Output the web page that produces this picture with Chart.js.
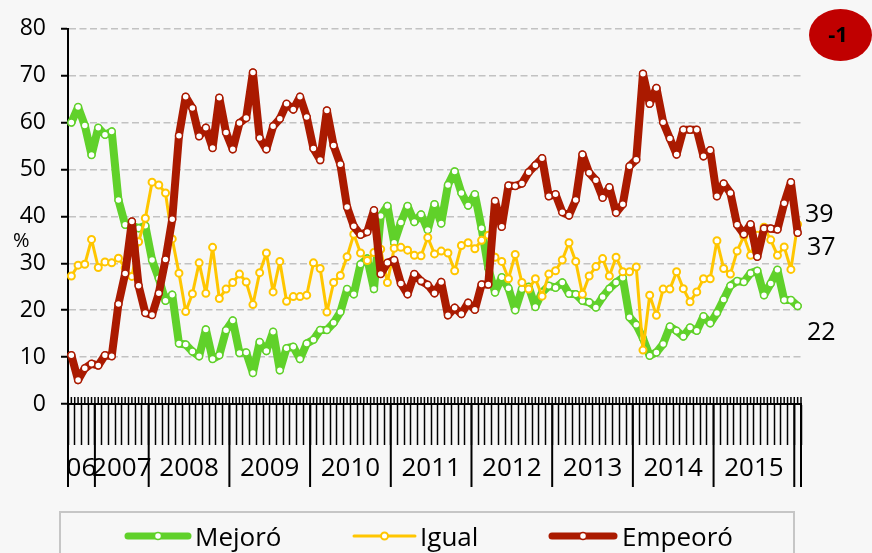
<!DOCTYPE html>
<html>
<head>
<meta charset="utf-8">
<script src="https://cdn.jsdelivr.net/npm/chart.js@4.4.0/dist/chart.umd.min.js"></script>
<style>
  html, body { margin: 0; padding: 0; background: #f7f7f7; overflow: hidden; }
  #wrap { position: relative; width: 872px; height: 553px; font-family: "Open Sans", sans-serif; }
  #chart { position: absolute; left: 0; top: 0; }
  #legendBox { position: absolute; left: 59px; top: 511px; width: 736px; height: 70px;
               border: 2px solid #c6c6c6; box-sizing: border-box; }
  #legendSvg { position: absolute; left: 0; top: 0; }
  .lg { position: absolute; top: 519px; font-size: 26px; line-height: 34px; color: #000; }
</style>
</head>
<body>
<div id="wrap">
  <canvas id="chart" width="872" height="553"></canvas>
  <div id="legendBox"></div>
  <svg id="legendSvg" width="872" height="553"></svg>
  <span class="lg" style="left:195px">Mejoró</span>
  <span class="lg" style="left:420px">Igual</span>
  <span class="lg" style="left:622px">Empeoró</span>
</div>
<script>
var FONT = '"Open Sans", sans-serif';

// years covered and first/last survey month in each
var years      = ['2006', '2007', '2008', '2009', '2010', '2011', '2012', '2013', '2014', '2015', '2016'];
var firstMonth = [9, 5, 1, 1, 1, 1, 1, 1, 1, 1, 1];
var lastMonth  = [12, 12, 12, 12, 12, 12, 12, 12, 12, 12, 1];
var yearTicks  = ['06', '2007', '2008', '2009', '2010', '2011', '2012', '2013', '2014', '2015', ''];

var mejoro = [
  60, 63.3, 59.4, 53.1,
  58.9, 57.4, 58.1, 43.5, 38.2, 38, 37.5, 38,
  30.7, 26.8, 22, 23.3, 12.9, 12.7, 11.2, 10.2, 15.9, 9.6, 10.4, 15.7,
  17.8, 10.9, 11, 6.6, 13.2, 11.3, 15.4, 7.2, 11.9, 12.2, 9.6, 12.9,
  13.7, 15.8, 15.8, 17.3, 19.6, 24.5, 23.4, 29.8, 31, 24.5, 40.1, 42.2,
  34.4, 38.7, 42.2, 38.8, 40.4, 37.1, 42.6, 38.5, 46.7, 49.6, 45, 42.3,
  44.7, 37.5, 29, 23.8, 27, 24.7, 20, 24.5, 25, 20.7, 23.8, 25.2,
  24.8, 25.9, 23.5, 23.4, 22, 21.7, 20.6, 22.8, 24.6, 25.9, 26.9, 18.5,
  16.9, 14, 10.3, 11, 12.8, 16.5, 15.6, 14.4, 16.3, 15.6, 18.7, 17.2,
  19.4, 22.3, 25.2, 26.2, 26, 27.9, 28.4, 23.2, 25.7, 28.6, 22.2, 22.2,
  20.9
];
var igual = [
  27.3, 29.6, 29.8, 35.1,
  29.1, 30.3, 30.1, 31.1, 29, 27.2, 34.6, 39.6,
  47.3, 46.7, 45, 35.2, 27.9, 19.7, 23.5, 30.1, 23.6, 33.4, 22.5, 24.5,
  25.9, 27.7, 26, 21.2, 28, 32.2, 23.9, 30.4, 21.9, 22.9, 22.9, 23.2,
  30.1, 28.9, 19.6, 25.9, 27.4, 31.4, 36.2, 32.2, 30.6, 32.3, 33, 25.9,
  33.2, 33.4, 32.8, 31.7, 31.6, 35.5, 32, 32.6, 32.2, 28.4, 33.8, 34.4,
  33.1, 34.9, 36, 31.3, 30.4, 26.7, 31.9, 25.9, 24.5, 26.7, 23, 27.7,
  28.4, 30.7, 34.4, 30.4, 23.4, 27.3, 29.3, 31, 27.3, 31.3, 28.2, 28.2,
  29.2, 11.5, 23.2, 18.9, 24.5, 24.5, 28.2, 24.6, 21.8, 23.9, 26.7, 26.7,
  34.8, 28.9, 27.7, 32.6, 35.8, 31.7, 36, 37.7, 35, 31.7, 33.5, 28.7,
  38.3
];
var empeoro = [
  10.4, 5.1, 7.6, 8.6,
  8.2, 10.4, 10.2, 21.3, 27.8, 38.9, 25.2, 19.4,
  19, 23.6, 30.8, 39.4, 57.2, 65.5, 63.1, 57.1, 58.9, 54.6, 65.3, 57.9,
  54.3, 59.9, 61, 70.7, 56.7, 54.3, 59.2, 60.8, 64, 62.8, 65.5, 61.2,
  54.5, 52, 62.6, 55.1, 51.1, 42, 37.9, 36.1, 36.7, 41.3, 27.7, 30.1,
  30.7, 25.7, 23.4, 27.7, 26.2, 25.4, 23.6, 26, 18.9, 20.5, 19.2, 21.6,
  20.1, 25.5, 25.5, 43.3, 37.8, 46.6, 46.5, 47, 49.4, 50.9, 52.4, 44.3,
  44.7, 40.9, 40.2, 43.5, 53.2, 49.3, 47.7, 44, 46.2, 40.8, 42.6, 50.7,
  52.1, 70.4, 64, 67.4, 60.1, 56.6, 53.2, 58.5, 58.5, 58.5, 52.8, 54.1,
  44.3, 47, 45, 38.2, 36.2, 38.3, 31.4, 37.4, 37.4, 37.2, 42.8, 47.3,
  36.5
];

// last values shown at the right end
var endLabels = ['39', '37', '22'];
var badge = '-1';

var colors = { mejoro: '#60d12a', igual: '#ffc600', empeoro: '#aa1a00' };

// month categories and where each year starts
var months = [];
var yearStart = [];
var tickLabelAt = {};
years.forEach(function(y, k) {
  yearStart.push(months.length);
  var n = lastMonth[k] - firstMonth[k] + 1;
  if (yearTicks[k] && n > 1) tickLabelAt[months.length + n / 2 - 1] = yearTicks[k];
  for (var m = firstMonth[k]; m <= lastMonth[k]; m++) {
    months.push(y + '-' + (m < 10 ? '0' + m : m));
  }
});

var decor = {
  id: 'decor',
  afterDraw: function(chart) {
    var ctx = chart.ctx;
    var xs = chart.scales.x;
    var bottom = chart.chartArea.bottom;
    var half = (xs.getPixelForValue(1) - xs.getPixelForValue(0)) / 2;

    ctx.save();
    ctx.strokeStyle = '#000';
    // small marks above the axis
    ctx.lineWidth = 1.5;
    ctx.beginPath();
    for (var i = 0; i < months.length; i++) {
      var c = xs.getPixelForValue(i);
      ctx.moveTo(c, bottom - 7); ctx.lineTo(c, bottom);
      ctx.moveTo(c - half, bottom - 7); ctx.lineTo(c - half, bottom);
    }
    var endX = xs.getPixelForValue(months.length - 1) + half;
    ctx.moveTo(endX, bottom - 7); ctx.lineTo(endX, bottom);
    ctx.stroke();

    // long year separators
    ctx.lineWidth = 2;
    ctx.beginPath();
    yearStart.forEach(function(s) {
      var bx = xs.getPixelForValue(s) - half;
      ctx.moveTo(bx, bottom); ctx.lineTo(bx, 487);
    });
    ctx.moveTo(endX, bottom); ctx.lineTo(endX, 487);
    ctx.stroke();

    // % unit
    ctx.fillStyle = '#000';
    ctx.font = '20px ' + FONT;
    ctx.textAlign = 'left';
    ctx.textBaseline = 'middle';
    ctx.fillText('%', 13, 241);

    // end values
    ctx.font = '25px ' + FONT;
    ctx.fillText(endLabels[0], 805, 215);
    ctx.fillText(endLabels[1], 807, 248);
    ctx.fillText(endLabels[2], 807, 333);

    // red badge
    ctx.fillStyle = '#c00000';
    ctx.beginPath();
    ctx.ellipse(840.5, 35, 31.5, 26, 0, 0, Math.PI * 2);
    ctx.fill();
    ctx.fillStyle = '#000';
    ctx.font = 'bold 22px ' + FONT;
    ctx.textAlign = 'center';
    ctx.fillText(badge, 838, 36);
    ctx.restore();
  }
};

function series(label, data, color, width, order) {
  return {
    label: label,
    data: data,
    borderColor: color,
    backgroundColor: color,
    borderWidth: width,
    borderJoinStyle: 'round',
    borderCapStyle: 'round',
    pointRadius: 3.5,
    pointBorderWidth: width > 4 ? 1.5 : 2,
    pointBackgroundColor: '#fff',
    pointBorderColor: color,
    tension: 0,
    order: order
  };
}

var ctx = document.getElementById('chart').getContext('2d');
var chart = new Chart(ctx, {
  type: 'line',
  data: {
    labels: months,
    datasets: [
      series('Mejoró', mejoro, colors.mejoro, 8, 2),
      series('Igual', igual, colors.igual, 3, 1),
      series('Empeoró', empeoro, colors.empeoro, 8, 0)
    ]
  },
  options: {
    responsive: false,
    animation: false,
    devicePixelRatio: 1,
    layout: { padding: { left: 0, right: 71, top: 24, bottom: 65 } },
    plugins: { legend: { display: false }, tooltip: { enabled: false } },
    scales: {
      x: {
        offset: true,
        grid: { drawOnChartArea: false, offset: true, tickLength: 41, tickWidth: 1.5, tickColor: '#000', color: '#000' },
        border: { color: '#000', width: 2 },
        ticks: {
          autoSkip: false, maxRotation: 0, minRotation: 0, labelOffset: 3.36, padding: 8,
          color: '#000', font: { size: 26, family: FONT },
          callback: function(v, i) { return tickLabelAt[i] || ''; }
        },
        afterFit: function(s) { s.height = 84; }
      },
      y: {
        min: 0, max: 80,
        ticks: { stepSize: 10, color: '#000', font: { size: 23, family: FONT }, padding: 15 },
        grid: { color: '#c2c2c2', lineWidth: 1.5, tickLength: 7, tickColor: '#000', tickWidth: 2, tickBorderDash: [] },
        border: { color: '#000', width: 2, dash: [7, 3.5] },
        afterFit: function(s) { s.width = 68; }
      }
    }
  },
  plugins: [decor]
});

// legend swatches
var svg = document.getElementById('legendSvg');
var NS = 'http://www.w3.org/2000/svg';
function swatch(x1, x2, color, width) {
  var l = document.createElementNS(NS, 'line');
  l.setAttribute('x1', x1); l.setAttribute('x2', x2);
  l.setAttribute('y1', 536); l.setAttribute('y2', 536);
  l.setAttribute('stroke', color); l.setAttribute('stroke-width', width);
  l.setAttribute('stroke-linecap', 'round');
  svg.appendChild(l);
  var c = document.createElementNS(NS, 'circle');
  c.setAttribute('cx', (x1 + x2) / 2); c.setAttribute('cy', 536); c.setAttribute('r', 3.5);
  c.setAttribute('fill', '#fff'); c.setAttribute('stroke', color);
  c.setAttribute('stroke-width', width > 4 ? 1.5 : 2);
  svg.appendChild(c);
}
swatch(128, 188, colors.mejoro, 7);
swatch(354, 415, colors.igual, 3);
swatch(552, 614, colors.empeoro, 7);
</script>
</body>
</html>
